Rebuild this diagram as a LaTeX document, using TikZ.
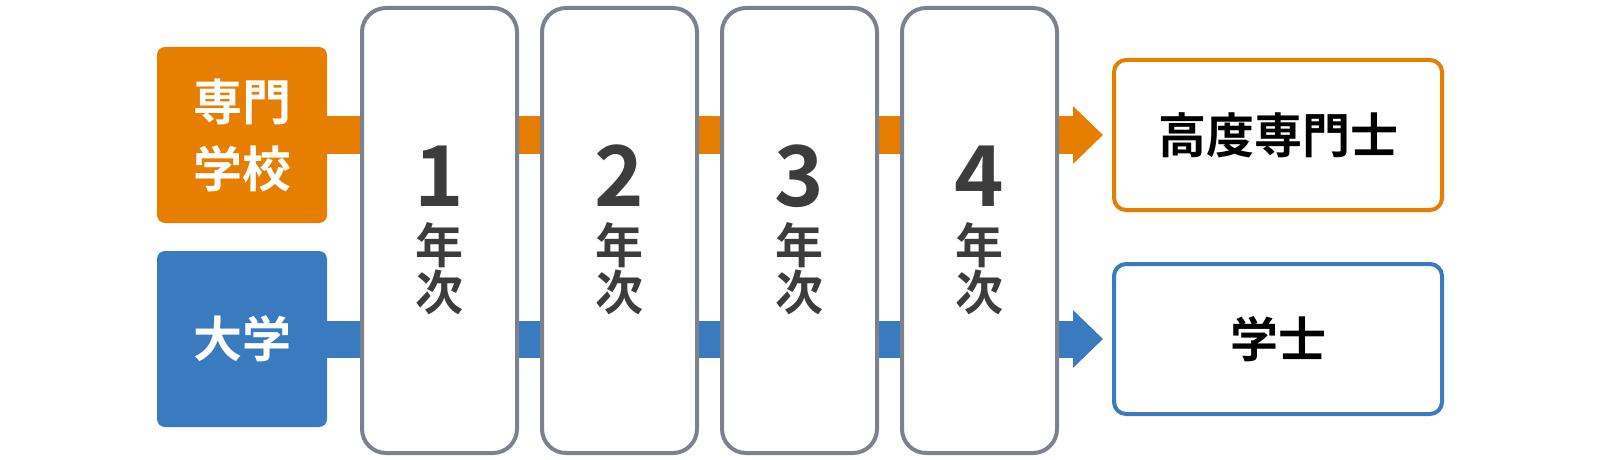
\documentclass[tikz,border=0pt]{standalone}
\usepackage{fontspec}
\setmainfont{Noto Sans CJK JP}[BoldFont=* Bold]
\usetikzlibrary{arrows.meta,backgrounds}

\definecolor{senmonorange}{HTML}{E67E00}
\definecolor{daigakublue}{HTML}{3A7BC0}
\definecolor{framegray}{HTML}{7C818E}
\definecolor{labelgray}{HTML}{3C3C3C}

\begin{document}
\begin{tikzpicture}[x=0.5pt,y=-0.5pt,
   school/.style={fill=#1,rounded corners=4pt,minimum width=85pt,minimum height=88pt,
      text=white,align=center,font=\fontsize{24.5}{33.5}\selectfont\bfseries},
   yearbox/.style={draw=framegray,line width=2pt,fill=white,rounded corners=12pt,
      minimum width=77.5pt,minimum height=222.5pt},
   yearlabel/.style={text=labelgray,align=center,anchor=base,inner sep=0pt,
      font={\fontsize{24}{23.25}\selectfont\bfseries\lineskiplimit=-20pt\relax}},
   degree/.style={draw=#1,line width=2pt,fill=white,rounded corners=6pt,
      minimum width=164pt,minimum height=75pt,font=\fontsize{24}{24}\selectfont\bfseries},
   route/.style={draw=#1,line width=18.5pt,-{Triangle[length=15pt,width=28pt]}}]
   \useasboundingbox (0,0) rectangle (1600,460);

   % schools
   \node[school=senmonorange] (senmon) at (242,135) {専門\\学校};
   \node[school=daigakublue] (daigaku) at (242,339) {大学};

   % years
   \node[yearbox] (y1) at (439.5,230.5) {};
   \node[yearbox] (y2) at (619.5,230.5) {};
   \node[yearbox] (y3) at (799.5,230.5) {};
   \node[yearbox] (y4) at (979.5,230.5) {};
   \node[yearlabel] (l1) at (439.5,310) {{\fontsize{42}{42}\selectfont 1}\\[5.25pt]年\\次};
   \node[yearlabel] (l2) at (619.5,310) {{\fontsize{42}{42}\selectfont 2}\\[5.25pt]年\\次};
   \node[yearlabel] (l3) at (799.5,310) {{\fontsize{42}{42}\selectfont 3}\\[5.25pt]年\\次};
   \node[yearlabel] (l4) at (979.5,310) {{\fontsize{42}{42}\selectfont 4}\\[5.25pt]年\\次};

   % degrees
   \node[degree=senmonorange] (koudo) at (1278,135) {高度専門士};
   \node[degree=daigakublue] (gakushi) at (1278,339) {学士};

   \coordinate (koudo-in) at ([xshift=-4.5pt]koudo.west);
   \coordinate (gakushi-in) at ([xshift=-4.5pt]gakushi.west);

   \begin{scope}[on background layer]
     \draw[route=senmonorange] (senmon.east) -- (koudo-in);
     \draw[route=daigakublue] (daigaku.east) -- (gakushi-in);
   \end{scope}
\end{tikzpicture}
\end{document}
